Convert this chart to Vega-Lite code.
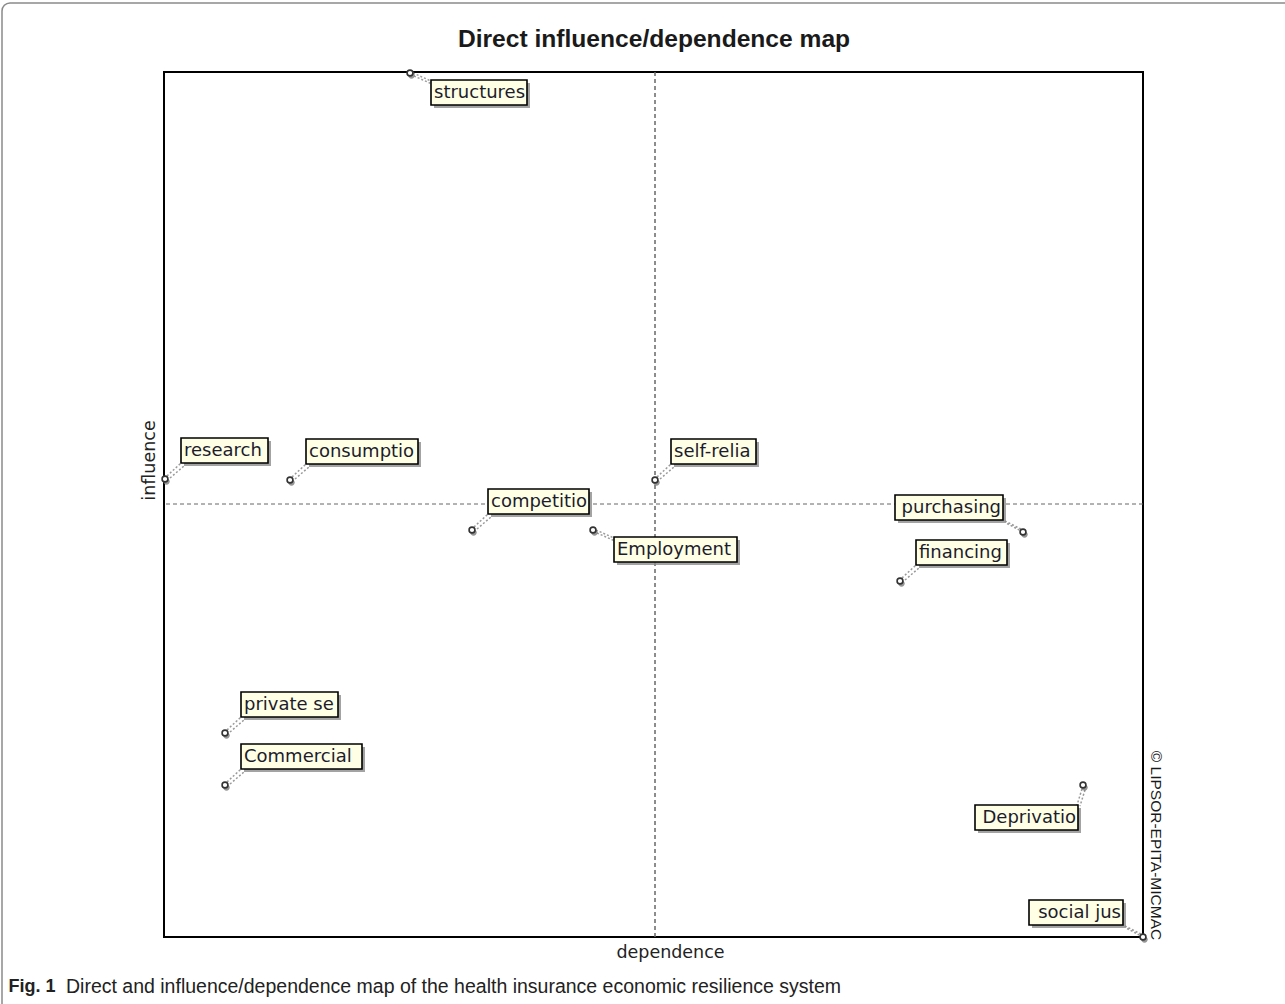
{
  "$schema": "https://vega.github.io/schema/vega-lite/v6.json",
  "width": 979,
  "height": 865,
  "autosize": "none",
  "padding": {"left": 164, "top": 72, "right": 142, "bottom": 67},
  "background": "white",
  "config": {
    "view": {"stroke": "#000000", "strokeWidth": 2},
    "axis": {"domain": false, "ticks": false, "labels": false, "grid": false}
  },
  "title": {
    "text": "Direct and influence/dependence map of the health insurance economic resilience system",
    "orient": "bottom",
    "anchor": "start",
    "frame": "group",
    "baseline": "top",
    "dx": -98,
    "offset": -50,
    "font": "Liberation Sans",
    "fontSize": 19.5,
    "fontWeight": "normal",
    "color": "#222222"
  },
  "data": {
    "values": [
      {"variable": "structures", "dependence": 246, "influence": 864},
      {"variable": "research", "dependence": 1, "influence": 458},
      {"variable": "consumptio", "dependence": 126, "influence": 457},
      {"variable": "self-relia", "dependence": 491, "influence": 457},
      {"variable": "competitio", "dependence": 308, "influence": 407},
      {"variable": "Employment", "dependence": 429, "influence": 407},
      {"variable": "purchasing", "dependence": 859, "influence": 405},
      {"variable": "financing", "dependence": 736, "influence": 356},
      {"variable": "private se", "dependence": 61, "influence": 204},
      {"variable": "Commercial", "dependence": 61, "influence": 152},
      {"variable": "Deprivatio", "dependence": 919, "influence": 152},
      {"variable": "social jus", "dependence": 979, "influence": 0}
    ]
  },
  "resolve": {"axis": {"x": "independent", "y": "independent"}},
  "layer": [
    {
      "data": {"values": [{}]},
      "mark": {"type": "rect", "cornerRadius": 8, "fill": "white", "fillOpacity": 0, "stroke": "#8a8a8a", "strokeWidth": 1.5},
      "encoding": {
        "x": {
          "datum": -162, "type": "quantitative",
          "scale": {"domain": [0, 979], "nice": false, "zero": false},
          "axis": {"orient": "top", "title": "Direct influence/dependence map", "titleFont": "Liberation Sans", "titleFontSize": 24.6, "titleFontWeight": "bold", "titleColor": "#1a1a1a", "titlePadding": 21}
        },
        "x2": {"datum": 1140},
        "y": {
          "datum": 934, "type": "quantitative",
          "scale": {"domain": [0, 865], "nice": false, "zero": false},
          "axis": {"orient": "left", "title": "influence", "titleY": 388, "titlePadding": 6, "titleFont": "DejaVu Sans", "titleFontSize": 17.5, "titleFontWeight": "normal", "titleColor": "#222222"}
        },
        "y2": {"datum": -90}
      }
    },
    {
      "data": {"values": [{}]},
      "mark": {"type": "rule", "stroke": "#666666", "strokeWidth": 1, "strokeDash": [4, 3]},
      "encoding": {
        "x": {
          "datum": 491, "type": "quantitative",
          "scale": {"domain": [0, 979], "nice": false, "zero": false},
          "axis": {"orient": "bottom", "title": "dependence", "titleX": 506, "titlePadding": 6, "titleFont": "DejaVu Sans", "titleFontSize": 17.5, "titleFontWeight": "normal", "titleColor": "#222222"}
        }
      }
    },
    {
      "data": {"values": [{}]},
      "mark": {"type": "rule", "stroke": "#666666", "strokeWidth": 1, "strokeDash": [4, 3]},
      "encoding": {
        "x": {
          "datum": 491, "type": "quantitative",
          "scale": {"domain": [0, 979], "nice": false, "zero": false},
          "axis": {"orient": "bottom", "title": "Fig. 1", "titleX": -156, "titleY": 40, "titleAlign": "left", "titleBaseline": "top", "titleAngle": 0, "titleFont": "Liberation Sans", "titleFontSize": 18, "titleFontWeight": "bold", "titleColor": "#222222"}
        }
      }
    },
    {
      "data": {"values": [{}]},
      "mark": {"type": "rule", "stroke": "#666666", "strokeWidth": 1, "strokeDash": [4, 3]},
      "encoding": {
        "y": {
          "datum": 433, "type": "quantitative",
          "scale": {"domain": [0, 865], "nice": false, "zero": false},
          "axis": {"orient": "right", "title": "© LIPSOR-EPITA-MICMAC", "titleAngle": 90, "titleY": 773, "titleFont": "Liberation Sans", "titleFontSize": 15.5, "titleFontWeight": "normal", "titleColor": "#1a1a1a", "titlePadding": 4}
        }
      }
    },
    {
      "encoding": {
        "x": {"field": "dependence", "type": "quantitative", "scale": {"domain": [0, 979], "nice": false, "zero": false}, "axis": null},
        "y": {"field": "influence", "type": "quantitative", "scale": {"domain": [0, 865], "nice": false, "zero": false}, "axis": null}
      },
      "resolve": {"scale": {"shape": "independent"}},
      "layer": [
        {
          "mark": {"type": "point", "filled": false, "size": 4, "opacity": 1, "stroke": "#999999", "strokeWidth": 1.5, "strokeDash": [2, 2]},
          "encoding": {
            "shape": {
              "field": "variable", "type": "nominal", "legend": null,
              "scale": {
                "domain": ["structures", "research", "consumptio", "self-relia", "competitio", "Employment", "purchasing", "financing", "private se", "Commercial", "Deprivatio", "social jus"],
                "range": ["M3,0L21,8M4,3L22,11", "M2,-3L16,-16M5,-1L19,-13", "M2,-3L16,-16M5,-1L19,-13", "M2,-3L16,-16M5,-1L19,-13", "M2,-3L16,-16M5,-1L19,-13", "M3,0L21,8M4,3L22,11", "M-2,-3L-20,-12M0,0L-17,-9", "M2,-3L16,-16M5,-1L19,-13", "M2,-3L16,-16M5,-1L19,-13", "M2,-3L16,-16M5,-1L19,-13", "M-1,4L-6,20M2,5L-3,21", "M-2,-3L-20,-12M0,0L-17,-9"]
              }
            }
          }
        },
        {
          "mark": {"type": "point", "filled": true, "size": 4, "opacity": 0.8, "fill": "#8c8c8c", "strokeWidth": 0},
          "encoding": {
            "shape": {
              "field": "variable", "type": "nominal", "legend": null,
              "scale": {
                "domain": ["structures", "research", "consumptio", "self-relia", "competitio", "Employment", "purchasing", "financing", "private se", "Commercial", "Deprivatio", "social jus"],
                "range": ["M24,10H120V35H24Z", "M19,-38H106V-13H19Z", "M19,-38H131V-13H19Z", "M19,-38H104V-13H19Z", "M19,-38H120V-13H19Z", "M24,10H147V35H24Z", "M-125,-34H-17V-9H-125Z", "M19,-38H110V-13H19Z", "M19,-38H116V-13H19Z", "M19,-38H140V-13H19Z", "M-105,23H-2V48H-105Z", "M-111,-34H-17V-9H-111Z"]
              }
            }
          }
        },
        {
          "mark": {"type": "point", "filled": true, "size": 4, "opacity": 1, "fill": "#FFFFE6", "stroke": "#000000", "strokeWidth": 1.6},
          "encoding": {
            "shape": {
              "field": "variable", "type": "nominal", "legend": null,
              "scale": {
                "domain": ["structures", "research", "consumptio", "self-relia", "competitio", "Employment", "purchasing", "financing", "private se", "Commercial", "Deprivatio", "social jus"],
                "range": ["M21,7H117V32H21Z", "M16,-41H103V-16H16Z", "M16,-41H128V-16H16Z", "M16,-41H101V-16H16Z", "M16,-41H117V-16H16Z", "M21,7H144V32H21Z", "M-128,-37H-20V-12H-128Z", "M16,-41H107V-16H16Z", "M16,-41H113V-16H16Z", "M16,-41H137V-16H16Z", "M-108,20H-5V45H-108Z", "M-114,-37H-20V-12H-114Z"]
              }
            }
          }
        },
        {
          "mark": {"type": "point", "filled": true, "size": 4, "opacity": 0.8, "fill": "#7a7a7a", "strokeWidth": 0, "shape": "M4.7,2.5A3.2,3.2 0 1,1 -1.7,2.5A3.2,3.2 0 1,1 4.7,2.5Z"}
        },
        {
          "mark": {"type": "point", "shape": "circle", "filled": true, "size": 34, "opacity": 1, "fill": "#ffffff", "stroke": "#333333", "strokeWidth": 1.6}
        },
        {
          "transform": [{"filter": {"field": "variable", "oneOf": ["research", "consumptio", "self-relia", "competitio", "financing", "private se", "Commercial"]}}],
          "mark": {"type": "text", "align": "left", "baseline": "middle", "dx": 19, "dy": -28.5, "font": "DejaVu Sans", "fontSize": 18, "fill": "#1c1c2c"},
          "encoding": {"text": {"field": "variable", "type": "nominal"}}
        },
        {
          "transform": [{"filter": {"field": "variable", "oneOf": ["structures", "Employment"]}}],
          "mark": {"type": "text", "align": "left", "baseline": "middle", "dx": 24, "dy": 19.5, "font": "DejaVu Sans", "fontSize": 18, "fill": "#1c1c2c"},
          "encoding": {"text": {"field": "variable", "type": "nominal"}}
        },
        {
          "transform": [{"filter": {"field": "variable", "oneOf": ["purchasing", "social jus"]}}],
          "mark": {"type": "text", "align": "right", "baseline": "middle", "dx": -22, "dy": -24.5, "font": "DejaVu Sans", "fontSize": 18, "fill": "#1c1c2c"},
          "encoding": {"text": {"field": "variable", "type": "nominal"}}
        },
        {
          "transform": [{"filter": {"field": "variable", "oneOf": ["Deprivatio"]}}],
          "mark": {"type": "text", "align": "right", "baseline": "middle", "dx": -7, "dy": 32.5, "font": "DejaVu Sans", "fontSize": 18, "fill": "#1c1c2c"},
          "encoding": {"text": {"field": "variable", "type": "nominal"}}
        }
      ]
    }
  ]
}
